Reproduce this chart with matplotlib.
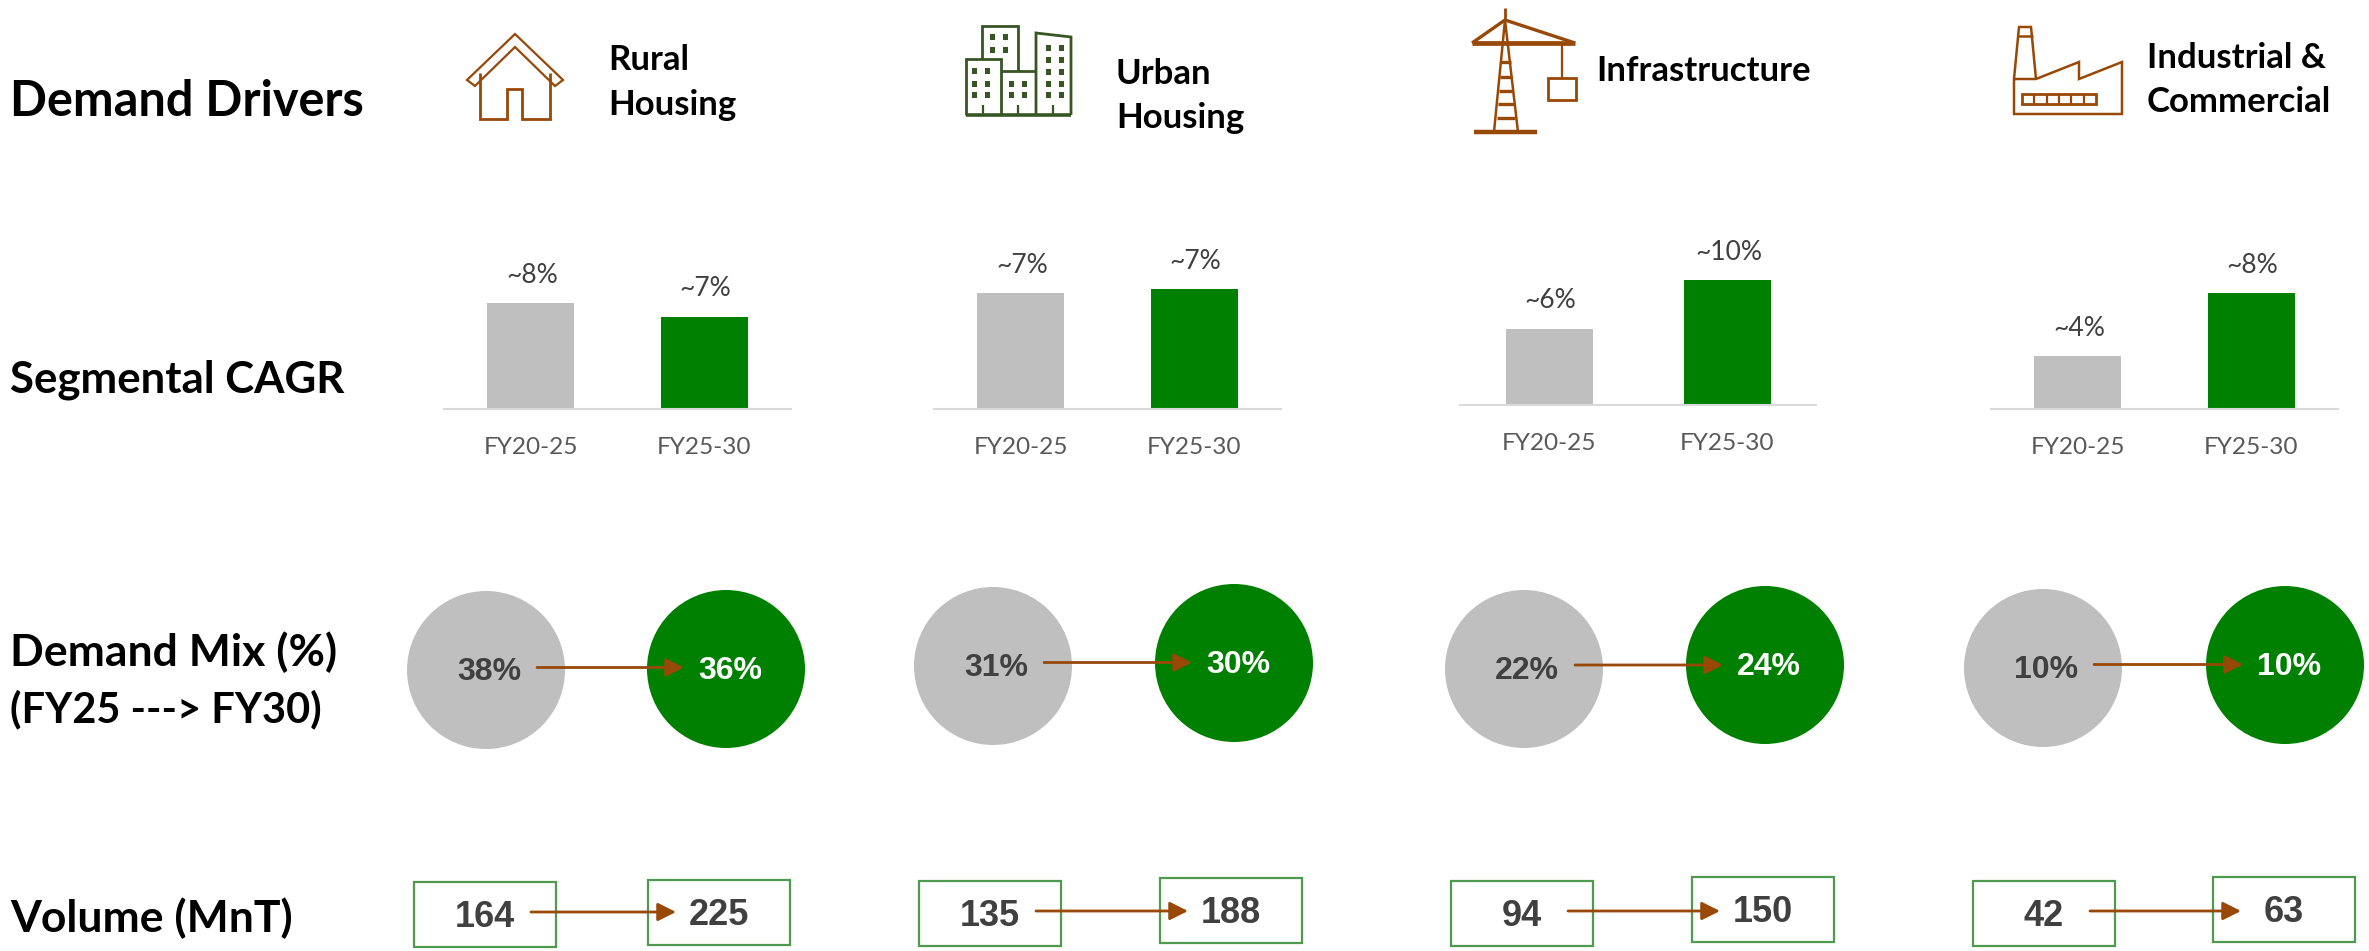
import matplotlib
matplotlib.use("Agg")
import matplotlib.pyplot as plt
from matplotlib.patches import Circle, Rectangle, Polygon

W = 2369
H = 951

# data
periods = ["FY20-25", "FY25-30"]
cagr_labels = [["~8%", "~7%"], ["~7%", "~7%"], ["~6%", "~10%"], ["~4%", "~8%"]]
cagr_values = [[8.0, 7.0], [7.0, 7.2], [6.1, 10.0], [3.7, 8.1]]
segments = [["Rural", "Housing"], ["Urban", "Housing"], ["Infrastructure"], ["Industrial &", "Commercial"]]
mix_fy25 = [38, 31, 22, 10]
mix_fy30 = [36, 30, 24, 10]
vol_fy25 = [164, 135, 94, 42]
vol_fy30 = [225, 188, 150, 63]
row_titles = ["Segmental CAGR", "Demand Mix (%)", "(FY25 ---> FY30)", "Volume (MnT)"]

# colours
GREY = "#BFBFBF"
GREEN = "#008000"
BROWN = "#984807"
DARKGREEN = "#375623"
BOXGREEN = "#4E9A4E"
TXT = "#404040"

HEAD = "Lato"
NUM = "Liberation Sans"

fig = plt.figure(figsize=(W / 100, H / 100), dpi=100)
bg = fig.add_axes([0, 0, 1, 1])
bg.set_xlim(0, W)
bg.set_ylim(H, 0)
bg.axis("off")


def head(x, y, s, size=24):
    bg.text(x, y, s, fontsize=size, fontweight="bold", family=HEAD, color="black", ha="left", va="center")


# left titles
head(10, 101, "Demand Drivers", 35)
head(10, 380, row_titles[0], 31.5)
head(10, 652, row_titles[1], 32)
head(10, 709, row_titles[2], 30)
head(10, 918, row_titles[3], 32)

# segment titles
head(608, 60, segments[0][0], 25)
head(608, 105, segments[0][1], 25)
head(1116, 74, segments[1][0], 25)
head(1116, 118, segments[1][1], 25)
head(1596, 71, segments[2][0], 25)
head(2147, 58, segments[3][0], 25)
head(2147, 102, segments[3][1], 25)


# bars, each group on its own little axes
bar_left = [444, 934, 1460, 1991]
bar_width = [347, 347, 356, 347]
bar_base = [409, 409, 405, 409]
px_per_unit = [13.2, 16.6, 12.5, 14.3]

for i in range(4):
    top = 190
    h = bar_base[i] - top
    ax = fig.add_axes([bar_left[i] / W, 1 - bar_base[i] / H, bar_width[i] / W, h / H])
    ax.patch.set_alpha(0)
    ax.bar([0, 1], cagr_values[i], width=87 / (bar_width[i] / 2), color=[GREY, GREEN])
    ax.set_xlim(-0.5, 1.5)
    ax.set_ylim(0, h / px_per_unit[i])
    ax.set_yticks([])
    ax.set_xticks([0, 1])
    ax.set_xticklabels(periods, fontsize=17.6, family=HEAD, color="#595959")
    ax.tick_params(axis="x", length=0, pad=20)
    for s in ["top", "left", "right"]:
        ax.spines[s].set_visible(False)
    ax.spines["bottom"].set_color("#D9D9D9")
    ax.spines["bottom"].set_linewidth(1.5)
    for j in range(2):
        ax.annotate(cagr_labels[i][j], (j, cagr_values[i][j]), xytext=(1, 20), textcoords="offset points",
                    ha="center", va="center", fontsize=19, family=HEAD, color=TXT)

# circles
circ_x25 = [486, 993, 1524, 2043]
circ_y25 = [670, 666, 669, 668]
circ_x30 = [726, 1234, 1765, 2285]
circ_y30 = [669, 663, 665, 665]
R = 79

for i in range(4):
    bg.add_patch(Circle((circ_x25[i], circ_y25[i]), R, color=GREY, lw=0))
    bg.add_patch(Circle((circ_x30[i], circ_y30[i]), R, color=GREEN, lw=0))
    bg.text(circ_x25[i] + 3, circ_y25[i] + 2, "%d%%" % mix_fy25[i], fontsize=23, fontweight="bold", family=NUM,
            color=TXT, ha="center", va="center")
    bg.text(circ_x30[i] + 4, circ_y30[i] + 2, "%d%%" % mix_fy30[i], fontsize=23, fontweight="bold", family=NUM,
            color="white", ha="center", va="center")
    y = (circ_y25[i] + circ_y30[i]) / 2 - 2
    bg.annotate("", xy=(circ_x30[i] - 42, y), xytext=(circ_x25[i] + 51, y),
                arrowprops=dict(arrowstyle="-|>,head_length=1.1,head_width=0.55", color=BROWN, lw=2,
                                shrinkA=0, shrinkB=0))

# volume boxes
box_x25 = [414, 919, 1451, 1973]
box_y25 = [882, 881, 881, 881]
box_x30 = [648, 1160, 1692, 2213]
box_y30 = [880, 878, 877, 877]
BW = 142
BH = 65

for i in range(4):
    bg.add_patch(Rectangle((box_x25[i], box_y25[i]), BW, BH, fc="white", ec=BOXGREEN, lw=1.6))
    bg.add_patch(Rectangle((box_x30[i], box_y30[i]), BW, BH, fc="white", ec=BOXGREEN, lw=1.6))
    bg.text(box_x25[i] + BW / 2, box_y25[i] + BH / 2 + 3, str(vol_fy25[i]), fontsize=26, fontweight="bold",
            family=NUM, color=TXT, ha="center", va="center")
    bg.text(box_x30[i] + BW / 2, box_y30[i] + BH / 2 + 3, str(vol_fy30[i]), fontsize=26, fontweight="bold",
            family=NUM, color=TXT, ha="center", va="center")
    y = box_y25[i] + 30
    bg.annotate("", xy=(box_x30[i] + 28, y), xytext=(box_x25[i] + 117, y),
                arrowprops=dict(arrowstyle="-|>,head_length=1.1,head_width=0.55", color=BROWN, lw=2,
                                shrinkA=0, shrinkB=0))


def line(pts, c=BROWN, lw=2.0):
    bg.plot([p[0] for p in pts], [p[1] for p in pts], color=c, lw=lw, solid_capstyle="butt", solid_joinstyle="miter")


# house icon
bg.add_patch(Polygon([(515, 34), (467, 80), (475, 86), (515, 47), (555, 86), (563, 80)], closed=True,
                     fc="none", ec=BROWN, lw=1.6))
line([(480, 73), (480, 119), (507, 119), (507, 89), (522, 89), (522, 119), (550, 119), (550, 73)])

# buildings icon
line([(966, 115), (966, 59), (1001, 59), (1001, 115)], DARKGREEN)
line([(982, 59), (982, 26), (1018, 26), (1018, 71)], DARKGREEN)
line([(1001, 71), (1036, 71)], DARKGREEN)
line([(1036, 115), (1036, 33), (1071, 37), (1071, 115)], DARKGREEN)
line([(966, 115), (1071, 115)], DARKGREEN, 2.6)
for wx in [975, 988]:
    for wy in [71, 84, 95]:
        bg.add_patch(Rectangle((wx - 3, wy - 3), 5, 6, color=DARKGREEN, lw=0))
for wx in [993, 1006]:
    for wy in [37, 50]:
        bg.add_patch(Rectangle((wx - 3, wy - 3), 5, 6, color=DARKGREEN, lw=0))
for wx in [1012, 1025]:
    for wy in [84, 95]:
        bg.add_patch(Rectangle((wx - 3, wy - 3), 5, 6, color=DARKGREEN, lw=0))
for wx in [1049, 1062]:
    for wy in [48, 60, 72, 84, 95]:
        bg.add_patch(Rectangle((wx - 3, wy - 3), 5, 6, color=DARKGREEN, lw=0))
for wx in [983, 1018, 1053]:
    line([(wx, 115), (wx, 105)], DARKGREEN, 1.6)

# crane icon
line([(1505, 8), (1505, 20)], BROWN, 2)
line([(1494, 132), (1505, 20), (1518, 132)], BROWN, 1.8)
line([(1472, 43), (1505, 20), (1575, 43)], BROWN, 2.4)
line([(1472, 43), (1575, 43)], BROWN, 3.4)
line([(1474, 132), (1537, 132)], BROWN, 3.2)
for ry, rw in [(62, 5), (77, 6), (91, 7), (104, 8), (118, 9)]:
    line([(1505.5 - rw, ry), (1505.5 + rw, ry)], BROWN, 2.4)
line([(1562, 43), (1562, 78)], BROWN, 1.6)
bg.add_patch(Rectangle((1548, 78), 28, 22, fc="none", ec=BROWN, lw=2))

# factory icon
line([(2014, 79), (2014, 114), (2122, 114), (2122, 62), (2079, 79), (2079, 62), (2036, 79), (2014, 79)], BROWN, 1.8)
line([(2014, 79), (2019, 27), (2031, 27), (2036, 79)], BROWN, 1.8)
line([(2017, 36), (2033, 36)], BROWN, 1.8)
bg.add_patch(Rectangle((2022, 94), 74, 10, fc="none", ec=BROWN, lw=2))
for dx in [2034, 2047, 2059, 2071, 2084]:
    line([(dx, 94), (dx, 104)], BROWN, 1.6)

fig.savefig("out.png", dpi=100)
